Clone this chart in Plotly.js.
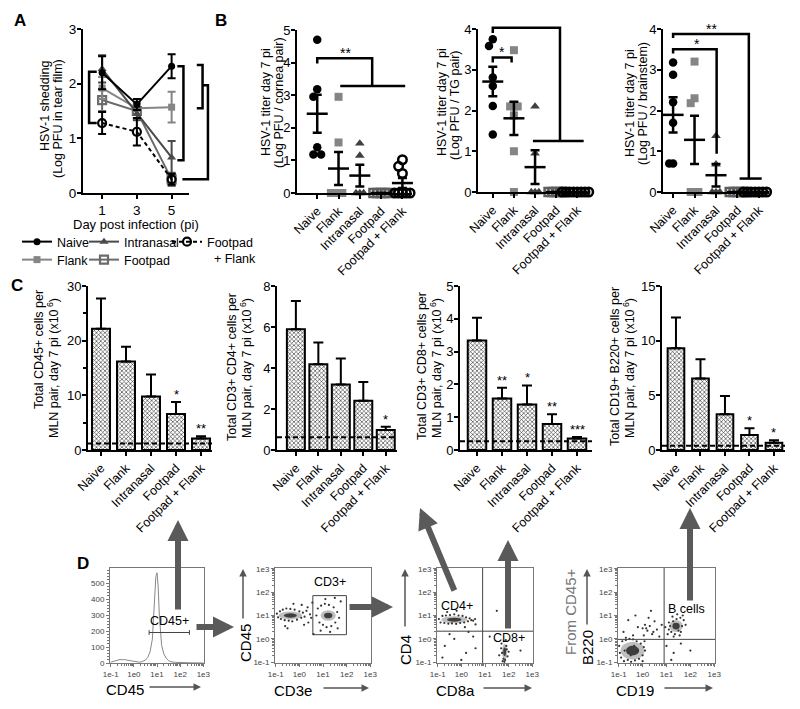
<!DOCTYPE html>
<html>
<head>
<meta charset="utf-8">
<script src="https://cdn.plot.ly/plotly-3.0.1.min.js"></script>
<style>html,body{margin:0;padding:0;background:#fff;}#fig{width:800px;height:709px;}</style>
</head>
<body>
<div id="fig"></div>
<script>
// ================= DATA =================
const groupNames = ['Naive', 'Flank', 'Intranasal', 'Footpad', 'Footpad + Flank'];

// Panel A: HSV-1 shedding (Log PFU in tear film), mean and SEM
const daysPostInfection = [1, 3, 5];
const sheddingNaive = [2.20, 1.62, 2.32];
const sheddingNaiveErr = [0.30, 0.10, 0.22];
const sheddingFlank = [1.92, 1.55, 1.57];
const sheddingFlankErr = [0.20, 0.12, 0.28];
const sheddingIntranasal = [2.27, 1.45, 0.65];
const sheddingIntranasalErr = [0.25, 0.12, 0.30];
const sheddingFootpad = [1.70, 1.50, 0.25];
const sheddingFootpadErr = [0.20, 0.14, 0.12];
const sheddingFootpadFlank = [1.28, 1.12, 0.25];
const sheddingFootpadFlankErr = [0.20, 0.25, 0.10];

// Panel B: HSV-1 titer day 7 pi, individual animals (Log PFU)
const corneaNaive = [4.70, 3.18, 2.95, 1.40, 1.18, 1.18];
const corneaFlank = [2.95, 1.55, 0, 0, 0, 0];
const corneaIntranasal = [1.52, 1.15, 0, 0, 0];
const corneaFootpad = [0, 0, 0, 0, 0];
const corneaFootpadFlank = [1.02, 0.82, 0.60, 0, 0, 0, 0, 0];

const tgNaive = [3.75, 3.58, 2.81, 2.60, 2.11, 1.41];
const tgFlank = [3.48, 2.10, 2.10, 2.10, 1.88, 1.00, 0];
const tgIntranasal = [2.10, 0.95, 0, 0, 0];
const tgFootpad = [0, 0, 0, 0, 0];
const tgFootpadFlank = [0, 0, 0, 0, 0, 0, 0, 0];

const brainstemNaive = [3.18, 2.88, 2.20, 1.70, 0.70, 0.70];
const brainstemFlank = [3.20, 2.30, 2.18, 0, 0, 0];
const brainstemIntranasal = [1.38, 0.68, 0, 0, 0];
const brainstemFootpad = [0, 0, 0, 0, 0];
const brainstemFootpadFlank = [0, 0, 0, 0, 0, 0, 0, 0];

// Panel C: total cells per MLN pair, day 7 pi (x10^6), mean and SEM
const cd45Mean = [22.2, 16.2, 9.8, 6.6, 2.1];
const cd45Err = [5.5, 2.7, 4.0, 2.2, 0.4];
const cd45Sig = ['', '', '', '*', '**'];
const cd4Mean = [5.89, 4.18, 3.20, 2.40, 0.98];
const cd4Err = [1.38, 1.06, 1.26, 0.92, 0.16];
const cd4Sig = ['', '', '', '', '*'];
const cd8Mean = [3.34, 1.57, 1.39, 0.79, 0.35];
const cd8Err = [0.69, 0.33, 0.58, 0.30, 0.05];
const cd8Sig = ['', '**', '*', '**', '***'];
const b220Mean = [9.30, 6.55, 3.26, 1.37, 0.67];
const b220Err = [2.83, 1.75, 1.68, 0.61, 0.23];
const b220Sig = ['', '', '', '*', '*'];
const detectionLimits = [1.2, 0.62, 0.27, 0.4];

// Panel D: flow cytometry (log10 units)
const cd45HistLog = [-1, -0.9, -0.8, -0.7, -0.6, -0.5, -0.4, -0.3, -0.2, -0.1, 0, 0.1, 0.2, 0.3, 0.4, 0.5, 0.6, 0.7, 0.8, 0.85, 0.9, 0.95, 1.0, 1.05, 1.1, 1.15, 1.2, 1.3, 1.4, 1.5, 1.6, 1.8, 2.0, 2.5, 3.0];
const cd45HistCount = [5, 10, 12, 18, 22, 20, 22, 18, 15, 15, 12, 8, 6, 6, 10, 18, 35, 70, 150, 260, 420, 540, 565, 480, 300, 180, 110, 55, 30, 15, 8, 4, 2, 1, 0];
const cd45GateLog = [0.66, 2.4];
const cd45GateCount = 191;

const cd3GateLogX = [0.57, 1.99];
const cd3GateLogY = [0.18, 1.85];
const cd3ClusterX = [-0.38, 1.22];
const cd3ClusterY = [1.0, 1.0];
const cd3ClusterSX = [0.5, 0.32];
const cd3ClusterSY = [0.17, 0.22];
const cd3DotsX = [-0.95,-0.9,-0.82,-0.78,-0.7,-0.62,-0.55,-0.45,-0.38,-0.3,-0.2,-0.1,0.0,0.08,0.15,0.22,0.3,0.38,0.45,0.5,-0.6,-0.25,0.1,0.35,-0.5,0.2,0.72,0.78,0.85,0.92,1.0,1.08,1.15,1.25,1.35,1.45,1.52,1.6,1.68,1.75,0.9,1.3,1.5,1.1,1.62,0.6,0.55];
const cd3DotsY = [1.08,0.92,1.18,0.85,1.25,0.8,1.3,0.78,1.28,0.75,1.25,0.82,1.18,0.9,1.12,0.95,1.2,0.7,1.05,0.9,0.55,1.5,1.45,1.35,0.45,0.6,1.0,1.3,0.7,1.42,0.6,1.5,0.5,1.45,0.55,1.35,0.7,1.15,0.9,1.6,0.35,0.3,1.75,1.7,0.45,0.2,1.55];

const cd8QuadLog = [0.9, 0.33];
const cd8ClusterX = [-0.3, 1.83];
const cd8ClusterY = [0.82, -0.55];
const cd8ClusterSX = [0.55, 0.11];
const cd8ClusterSY = [0.15, 0.33];
const cd8DotsX = [-0.95,-0.88,-0.8,-0.72,-0.65,-0.55,-0.48,-0.4,-0.3,-0.22,-0.12,-0.05,0.05,0.12,0.2,0.28,0.35,0.42,0.5,0.58,-0.6,-0.2,0.15,0.6,1.7,1.75,1.8,1.85,1.9,1.95,1.72,1.88,1.78,1.92,1.68,1.82,1.6,2.0,-0.7,-0.3,0.2,0.5,-0.8,0.0,0.6,-0.5,0.3,1.2,2.5,1.5];
const cd8DotsY = [0.85,0.7,0.98,0.68,1.0,0.65,1.02,0.66,1.05,0.64,1.0,0.68,0.98,0.7,0.92,0.75,0.88,0.8,0.78,0.85,1.15,1.2,0.5,0.62,-0.2,-0.95,-0.1,-0.9,-0.3,-0.75,-0.6,-0.05,-0.85,-0.45,-0.4,-0.98,-0.7,-0.55,-0.3,0.0,-0.6,0.1,-0.8,-0.9,-0.4,0.2,0.3,0.1,-0.5,1.2];

const cd19QuadLog = [0.9, -0.02];
const cd19ClusterX = [1.4, -0.42];
const cd19ClusterY = [0.55, -0.5];
const cd19ClusterSX = [0.28, 0.5];
const cd19ClusterSY = [0.26, 0.38];
const cd19DotsX = [1.05,1.1,1.15,1.2,1.28,1.35,1.42,1.5,1.58,1.65,1.72,1.1,1.3,1.55,1.68,0.95,1.8,1.25,1.45,1.6,-0.98,-0.9,-0.85,-0.78,-0.7,-0.62,-0.55,-0.48,-0.4,-0.32,-0.25,-0.15,-0.08,0.0,0.05,0.1,-0.95,-0.6,-0.2,0.08,-0.75,-0.35,0.0,-0.5,-0.8,-0.6,-0.4,-0.2,0.0,0.1,0.2,0.3,0.4,0.5,0.6,0.7,-0.3,0.05,0.25,0.45,0.8,-0.7,0.15,0.35,1.0,1.3,1.6,2.0,1.2];
const cd19DotsY = [0.2,0.4,0.55,0.3,0.75,0.2,0.85,0.35,0.9,0.55,0.8,0.7,0.1,0.15,1.0,0.5,0.6,0.95,1.05,0.3,-0.3,-0.8,-0.1,-0.95,-0.05,-0.9,0.0,-0.98,-0.02,-0.92,-0.1,-0.85,-0.2,-0.7,-0.35,-0.5,-0.6,-0.6,-0.5,-0.1,-0.5,-0.3,-0.95,-0.7,0.3,0.8,0.15,0.5,0.45,0.6,0.35,0.55,0.2,0.75,0.4,0.1,1.0,0.15,0.9,0.3,0.6,0.05,0.45,1.2,-0.3,-0.6,-0.2,-0.5,-0.9];

// ================= HELPERS =================
const W = 800, H = 709;
const FONT = 'Arial, "Liberation Sans", sans-serif';
function domX(l, r) { return [l / W, r / W]; }
function domY(t, b) { return [1 - b / H, 1 - t / H]; }
function f(size, color) { return {family: FONT, size: size, color: color || '#000'}; }

const mainAx = {showline: true, linecolor: '#000', linewidth: 2, ticks: 'outside', ticklen: 4, tickwidth: 2,
  tickcolor: '#000', showgrid: false, zeroline: false, tickfont: f(13)};
function catX(l, r, range, anchor) {
  return Object.assign({}, mainAx, {domain: domX(l, r), range: range, anchor: anchor, tickmode: 'array',
    tickvals: [0, 1, 2, 3, 4], ticktext: groupNames, tickangle: -45, tickfont: f(12.5)});
}
function valY(t, b, range, dtick, anchor, minor) {
  const o = Object.assign({}, mainAx, {domain: domY(t, b), range: range, tickmode: 'linear', tick0: 0, dtick: dtick,
    anchor: anchor, ticklabelstandoff: -2});
  if (minor) o.minor = {tickmode: 'linear', tick0: 0, dtick: minor, ticks: 'outside', ticklen: 3, tickwidth: 2, tickcolor: '#000'};
  return o;
}
const minorLog = [];
for (let d = -1; d < 3; d++) for (let k = 2; k < 10; k++) minorLog.push(d + Math.log10(k));
function flowAx(domain, anchor) {
  return {domain: domain, anchor: anchor, range: [-1.03, 3.03], showline: true, linecolor: '#777', linewidth: 1,
    mirror: true, ticks: 'outside', ticklen: 3, tickwidth: 1, tickcolor: '#777', showgrid: false, zeroline: false,
    tickmode: 'array', tickvals: [-1, 0, 1, 2, 3], ticktext: ['1e-1', '1e0', '1e1', '1e2', '1e3'], tickfont: f(8, '#444'),
    minor: {tickmode: 'array', tickvals: minorLog, ticks: 'outside', ticklen: 2, tickcolor: '#777', tickwidth: 1}};
}

function legendAt(xText, yTop) {
  return {orientation: 'v', xanchor: 'left', yanchor: 'top', x: (xText - 40) / W, y: 1 - yTop / H,
    itemwidth: 30, valign: 'top', font: f(12.5), bgcolor: 'rgba(0,0,0,0)', borderwidth: 0, tracegroupgap: 0};
}

const layout = {
  width: W, height: H, margin: {l: 0, r: 0, t: 0, b: 0},
  paper_bgcolor: '#fff', plot_bgcolor: 'rgba(0,0,0,0)', font: f(13), showlegend: true,
  legend: legendAt(57, 227), legend2: legendAt(124, 227), legend3: legendAt(207, 227),
  legend4: legendAt(57, 245), legend5: legendAt(124, 245),
  // A
  xaxis: Object.assign({}, mainAx, {domain: domX(83, 189), range: [-0.1, 6], anchor: 'y', tickmode: 'array', tickvals: daysPostInfection, tickfont: f(13.5, '#000')}),
  yaxis: Object.assign(valY(29, 193, [0, 3], 1, 'x'), {tickfont: f(13.5, '#000')}),
  // B
  xaxis2: catX(297, 412, [-0.95, 4.45], 'y2'), yaxis2: valY(30, 193, [0, 5], 1, 'x2'),
  xaxis3: catX(478, 590, [-0.7, 4.6], 'y3'), yaxis3: valY(29, 192, [0, 4], 1, 'x3'),
  xaxis4: catX(663, 769, [-0.47, 4.47], 'y4'), yaxis4: valY(29, 192, [0, 4], 1, 'x4'),
  // C
  xaxis5: catX(88, 212, [-0.52, 4.44], 'y5'), yaxis5: valY(286, 450, [0, 30], 10, 'x5', 5),
  xaxis6: catX(277, 397, [-0.84, 4.5], 'y6'), yaxis6: valY(286, 450, [0, 8], 2, 'x6'),
  xaxis7: catX(460, 592, [-0.68, 4.6], 'y7'), yaxis7: valY(286, 450, [0, 5], 1, 'x7'),
  xaxis8: catX(662, 785, [-0.57, 4.45], 'y8'), yaxis8: valY(286, 450, [0, 15], 5, 'x8'),
  // D
  xaxis9: flowAx(domX(110, 204), 'y9'),
  yaxis9: Object.assign(flowAx(domY(568, 663), 'x9'), {range: [0, 595], tickvals: [0, 100, 200, 300, 400, 500],
    ticktext: ['0', '100', '200', '300', '400', '500'], minor: {tickmode: 'linear', tick0: 0, dtick: 20, ticks: 'outside', ticklen: 2, tickcolor: '#777', tickwidth: 1}}),
  xaxis10: flowAx(domX(275, 371), 'y10'), yaxis10: flowAx(domY(568, 663), 'x10'),
  xaxis11: flowAx(domX(437, 533), 'y11'), yaxis11: flowAx(domY(568, 663), 'x11'),
  xaxis12: flowAx(domX(618, 715), 'y12'), yaxis12: flowAx(domY(568, 663), 'x12'),
  shapes: [], annotations: []
};

function axisToPaper(axName, v) {
  const a = layout[axName];
  return a.domain[0] + (v - a.range[0]) / (a.range[1] - a.range[0]) * (a.domain[1] - a.domain[0]);
}
function addBracket(xa, ya, pts) {
  const path = pts.map((p, i) => (i ? 'L' : 'M') + axisToPaper(xa, p[0]).toFixed(5) + ',' + axisToPaper(ya, p[1]).toFixed(5)).join(' ');
  layout.shapes.push({type: 'path', xref: 'paper', yref: 'paper', path: path, fillcolor: 'rgba(0,0,0,0)', line: {color: '#000', width: 2.5}, layer: 'above'});
}
function txt(text, x, y, size, extra) {
  layout.annotations.push(Object.assign({text: text, x: x / W, y: 1 - y / H, xref: 'paper', yref: 'paper', showarrow: false,
    xanchor: 'center', yanchor: 'middle', font: f(size)}, extra || {}));
}
function vtxt(text, x, y, size, extra) { txt(text, x, y, size, Object.assign({textangle: -90}, extra || {})); }
function dtxt(text, xref, yref, x, y, size, extra) {
  layout.annotations.push(Object.assign({text: text, x: x, y: y, xref: xref, yref: yref, showarrow: false,
    xanchor: 'center', yanchor: 'middle', font: f(size)}, extra || {}));
}
function arrow(tailX, tailY, tipX, tipY, width, size, color) {
  layout.annotations.push({text: '', x: tipX / W, y: 1 - tipY / H, xref: 'paper', yref: 'paper', axref: 'pixel', ayref: 'pixel',
    ax: tailX - tipX, ay: tailY - tipY, showarrow: true, arrowhead: 2, arrowwidth: width, arrowsize: size, arrowcolor: color, standoff: 0});
}
function mean(a) { return a.reduce((s, v) => s + v, 0) / a.length; }
function sem(a) { const m = mean(a); return Math.sqrt(a.reduce((s, v) => s + (v - m) * (v - m), 0) / (a.length - 1) / a.length); }
function swarm(values, threshold, step) {
  const placed = [], offs = new Array(values.length);
  const order = values.map((v, i) => i).sort((a, b) => values[b] - values[a]);
  const cand = [0]; for (let j = 1; j < 30; j++) cand.push(-j, j);
  order.forEach(i => {
    const v = values[i];
    const used = placed.filter(p => Math.abs(p.v - v) < threshold).map(p => p.k);
    const k = cand.find(c => !used.includes(c));
    placed.push({v: v, k: k}); offs[i] = k * step;
  });
  return offs;
}

const traces = [];

// ================= PANEL A =================
const aGroups = [
  {name: 'Footpad', y: sheddingFootpad, err: sheddingFootpadErr, color: '#6b6b6b', symbol: 'square-open', size: 8, dash: 'solid', legend: 'legend5', open: true},
  {name: 'Flank', y: sheddingFlank, err: sheddingFlankErr, color: '#858585', symbol: 'square', size: 7, dash: 'solid', legend: 'legend4'},
  {name: 'Intranasal', y: sheddingIntranasal, err: sheddingIntranasalErr, color: '#4a4a4a', symbol: 'triangle-up', size: 8, dash: 'solid', legend: 'legend2'},
  {name: 'Footpad<br>&nbsp;&nbsp;+ Flank', y: sheddingFootpadFlank, err: sheddingFootpadFlankErr, color: '#000', symbol: 'circle-open', size: 8, dash: '4px,3px', legend: 'legend3', open: true},
  {name: 'Naive', y: sheddingNaive, err: sheddingNaiveErr, color: '#000', symbol: 'circle', size: 7, dash: 'solid', legend: 'legend'}
];
aGroups.forEach(g => traces.push({
  type: 'scatter', mode: 'lines+markers', x: daysPostInfection, y: g.y, name: g.name, legend: g.legend,
  xaxis: 'x', yaxis: 'y', cliponaxis: false,
  line: {color: g.color, width: 2, dash: g.dash},
  marker: {symbol: g.symbol, size: g.size, color: g.color, line: {color: g.color, width: g.open ? 2.2 : 0}},
  error_y: {type: 'data', array: g.err, visible: true, color: g.color, thickness: 2, width: 4}
}));

addBracket('xaxis', 'yaxis', [[0.69, 2.22], [0.25, 2.22], [0.25, 1.28], [0.69, 1.28]]);
addBracket('xaxis', 'yaxis', [[5.33, 2.32], [5.68, 2.32], [5.68, 0.6], [5.33, 0.6]]);
addBracket('xaxis', 'yaxis', [[6.45, 2.34], [6.78, 2.34], [6.78, 1.55], [6.45, 1.55]]);
addBracket('xaxis', 'yaxis', [[6.78, 1.97], [7.09, 1.97], [7.09, 0.25], [5.62, 0.25]]);
dtxt('**', 'x', 'y', -0.30, 1.73, 14, {textangle: -90});
dtxt('***', 'x', 'y', 6.12, 1.39, 14, {textangle: -90});
dtxt('***', 'x', 'y', 7.62, 1.18, 14, {textangle: -90});
vtxt('HSV-1 shedding', 45, 106, 12.5);
vtxt('(Log PFU in tear film)', 58, 118, 12.5);
txt('Day post infection (pi)', 136, 225, 13);

// ================= PANEL B =================
const bStyles = [
  {symbol: 'circle', color: '#000', size: 8.5, lw: 0},
  {symbol: 'square', color: '#858585', size: 8, lw: 0},
  {symbol: 'triangle-up', color: '#404040', size: 8.5, lw: 0},
  {symbol: 'square-open', color: '#5e5e5e', size: 8, lw: 2.5},
  {symbol: 'circle-open', color: '#000', size: 8.5, lw: 2.5}
];
const bPanels = [
  {id: '2', sets: [corneaNaive, corneaFlank, corneaIntranasal, corneaFootpad, corneaFootpadFlank]},
  {id: '3', sets: [tgNaive, tgFlank, tgIntranasal, tgFootpad, tgFootpadFlank]},
  {id: '4', sets: [brainstemNaive, brainstemFlank, brainstemIntranasal, brainstemFootpad, brainstemFootpadFlank]}
];
bPanels.forEach(p => {
  const ya = layout['yaxis' + p.id];
  const valPerPx = (ya.range[1] - ya.range[0]) / ((ya.domain[1] - ya.domain[0]) * H);
  p.sets.forEach((vals, g) => {
    const offs = swarm(vals, valPerPx * 7.5, 0.18);
    const s = bStyles[g];
    traces.push({type: 'scatter', mode: 'markers', x: offs.map(o => g + o), y: vals, xaxis: 'x' + p.id, yaxis: 'y' + p.id,
      showlegend: false, cliponaxis: false,
      marker: {symbol: s.symbol, size: s.size, color: s.color, line: {color: s.color, width: s.lw}}});
  });
  traces.push({type: 'scatter', mode: 'markers', x: [0, 1, 2, 3, 4], y: p.sets.map(mean), xaxis: 'x' + p.id, yaxis: 'y' + p.id,
    showlegend: false, cliponaxis: false,
    marker: {symbol: 'line-ew', size: 15, color: '#000', line: {color: '#000', width: 2.5}},
    error_y: {type: 'data', array: p.sets.map(sem), visible: true, color: '#000', thickness: 2.5, width: 4.5}});
});
// B significance brackets
addBracket('xaxis2', 'yaxis2', [[0, 3.97], [0, 4.13], [2.58, 4.13], [2.58, 3.28]]);
addBracket('xaxis2', 'yaxis2', [[1.08, 3.28], [4.13, 3.28]]);
dtxt('**', 'x2', 'y2', 1.31, 4.30, 14);
addBracket('xaxis3', 'yaxis3', [[0, 3.18], [0, 3.3], [0.89, 3.3], [0.89, 3.18]]);
dtxt('*', 'x3', 'y3', 0.43, 3.43, 14);
addBracket('xaxis3', 'yaxis3', [[0, 3.9], [0, 4.03], [3.18, 4.03], [3.18, 1.25]]);
addBracket('xaxis3', 'yaxis3', [[1.9, 1.25], [4.3, 1.25]]);
dtxt('***', 'x3', 'y3', 1.74, 4.16, 14);
addBracket('xaxis4', 'yaxis4', [[0, 3.4], [0, 3.5], [2.03, 3.5], [2.03, 0.94]]);
dtxt('*', 'x4', 'y4', 1.1, 3.62, 14);
addBracket('xaxis4', 'yaxis4', [[0, 3.78], [0, 3.88], [3.53, 3.88], [3.53, 0.33]]);
addBracket('xaxis4', 'yaxis4', [[3.1, 0.33], [4.13, 0.33]]);
dtxt('**', 'x4', 'y4', 1.8, 4.0, 14);
vtxt('HSV-1 titer day 7 pi', 266, 102, 12.5);
vtxt('(Log PFU / cornea pair)', 279, 103, 12.5);
vtxt('HSV-1 titer day 7 pi', 442, 102, 12.5);
vtxt('(Log PFU / TG pair)', 455, 105, 12.5);
vtxt('HSV-1 titer day 7 pi', 630, 103, 12.5);
vtxt('(Log PFU / brainstem)', 643, 104, 12.5);

// ================= PANEL C =================
const cPanels = [
  {id: '5', m: cd45Mean, e: cd45Err, s: cd45Sig, w: 0.72, t1: 'Total CD45+ cells per', x1: 39, y1: 350, x2: 53},
  {id: '6', m: cd4Mean, e: cd4Err, s: cd4Sig, w: 0.8, t1: 'Total CD3+ CD4+ cells per', x1: 232, y1: 367, x2: 246},
  {id: '7', m: cd8Mean, e: cd8Err, s: cd8Sig, w: 0.74, t1: 'Total CD3+ CD8+ cells per', x1: 422, y1: 366, x2: 436},
  {id: '8', m: b220Mean, e: b220Err, s: b220Sig, w: 0.68, t1: 'Total CD19+ B220+ cells per', x1: 615, y1: 367, x2: 629}
];
cPanels.forEach((p, k) => {
  traces.push({type: 'bar', x: [0, 1, 2, 3, 4], y: p.m, width: p.w, xaxis: 'x' + p.id, yaxis: 'y' + p.id, showlegend: false,
    marker: {color: '#a9a9a9', line: {color: '#000', width: 2}, pattern: {shape: 'x', size: 3, solidity: 0.35, fgcolor: '#262626'}},
    error_y: {type: 'data', symmetric: false, array: p.e, arrayminus: p.e.map(() => 0), visible: true, color: '#000', thickness: 2, width: 5}});
  layout.shapes.push({type: 'line', xref: 'x' + p.id + ' domain', x0: 0, x1: 1, yref: 'y' + p.id, y0: detectionLimits[k], y1: detectionLimits[k],
    line: {color: '#000', width: 2, dash: '5px,3px'}, layer: 'above'});
  p.s.forEach((s, i) => { if (s) dtxt(s, 'x' + p.id, 'y' + p.id, i, p.m[i] + p.e[i], 13, {yanchor: 'bottom', yshift: -2}); });
  vtxt(p.t1, p.x1, p.y1, 12.5);
  vtxt('MLN pair, day 7 pi (x10<sup> 6</sup>)', p.x2, 368, 12.5);
});

// ================= PANEL D =================
traces.push({type: 'scatter', mode: 'lines', x: cd45HistLog, y: cd45HistCount, xaxis: 'x9', yaxis: 'y9', showlegend: false,
  line: {color: '#888', width: 1}});
layout.shapes.push({type: 'line', xref: 'x9', yref: 'y9', x0: cd45GateLog[0], x1: cd45GateLog[1], y0: cd45GateCount, y1: cd45GateCount, line: {color: '#444', width: 1}});
cd45GateLog.forEach(g => layout.shapes.push({type: 'line', xref: 'x9', yref: 'y9', x0: g, x1: g, y0: cd45GateCount - 15, y1: cd45GateCount + 15, line: {color: '#444', width: 1}}));
dtxt('CD45+', 'x9', 'y9', 1.55, 265, 12.5);

function clusters(id, cx, cy, sx, sy) {
  cx.forEach((x, i) => {
    layout.shapes.push({type: 'circle', xref: 'x' + id, yref: 'y' + id, x0: x - sx[i], x1: x + sx[i], y0: cy[i] - sy[i], y1: cy[i] + sy[i],
      fillcolor: 'rgba(110,110,110,0.45)', line: {width: 0}, layer: 'below'});
    layout.shapes.push({type: 'circle', xref: 'x' + id, yref: 'y' + id, x0: x - sx[i] * 0.55, x1: x + sx[i] * 0.55, y0: cy[i] - sy[i] * 0.55, y1: cy[i] + sy[i] * 0.55,
      fillcolor: 'rgba(40,40,40,0.85)', line: {width: 0}, layer: 'below'});
  });
}
function dots(id, xs, ys) {
  traces.push({type: 'scatter', mode: 'markers', x: xs, y: ys, xaxis: 'x' + id, yaxis: 'y' + id, showlegend: false,
    marker: {size: 2.2, color: '#333'}});
}
clusters('10', cd3ClusterX, cd3ClusterY, cd3ClusterSX, cd3ClusterSY);
dots('10', cd3DotsX, cd3DotsY);
layout.shapes.push({type: 'rect', xref: 'x10', yref: 'y10', x0: cd3GateLogX[0], x1: cd3GateLogX[1], y0: cd3GateLogY[0], y1: cd3GateLogY[1], line: {color: '#444', width: 1}});
dtxt('CD3+', 'x10', 'y10', 1.29, 2.42, 12.5);

clusters('11', cd8ClusterX, cd8ClusterY, cd8ClusterSX, cd8ClusterSY);
dots('11', cd8DotsX, cd8DotsY);
layout.shapes.push({type: 'line', xref: 'x11', yref: 'y11 domain', x0: cd8QuadLog[0], x1: cd8QuadLog[0], y0: 0, y1: 1, line: {color: '#444', width: 1}});
layout.shapes.push({type: 'line', xref: 'x11 domain', yref: 'y11', x0: 0, x1: 1, y0: cd8QuadLog[1], y1: cd8QuadLog[1], line: {color: '#444', width: 1}});
dtxt('CD4+', 'x11', 'y11', -0.17, 1.41, 12.5);
dtxt('CD8+', 'x11', 'y11', 2.03, 0.02, 12.5);

clusters('12', cd19ClusterX, cd19ClusterY, cd19ClusterSX, cd19ClusterSY);
dots('12', cd19DotsX, cd19DotsY);
layout.shapes.push({type: 'line', xref: 'x12', yref: 'y12 domain', x0: cd19QuadLog[0], x1: cd19QuadLog[0], y0: 0, y1: 1, line: {color: '#444', width: 1}});
layout.shapes.push({type: 'line', xref: 'x12 domain', yref: 'y12', x0: 0, x1: 1, y0: cd19QuadLog[1], y1: cd19QuadLog[1], line: {color: '#444', width: 1}});
dtxt('B cells', 'x12', 'y12', 1.83, 1.27, 12.5);

// D axis titles and thin arrows
txt('CD45', 125, 689, 15);
arrow(148, 687, 201, 687, 1.5, 1, '#555');
txt('CD3e', 293, 690, 15);
arrow(322, 688, 369, 688, 1.5, 1, '#555');
vtxt('CD45', 245, 643, 15);
arrow(243, 620, 243, 569, 1.5, 1, '#555');
txt('CD8a', 455, 690, 15);
arrow(482, 688, 532, 688, 1.5, 1, '#555');
vtxt('CD4', 405, 650, 15);
arrow(405, 628, 405, 569, 1.5, 1, '#555');
txt('CD19', 635, 690, 15);
arrow(663, 688, 713, 688, 1.5, 1, '#555');
vtxt('B220', 587, 648, 15);
vtxt('From CD45+', 570, 612, 15, {font: f(15, '#777')});
arrow(587, 626, 587, 569, 1.5, 1, '#555');

// big grey connector arrows
arrow(178, 611, 178, 520, 6, 0.7, '#5a5a5a');
arrow(195, 627, 234, 627, 6, 0.7, '#5a5a5a');
arrow(348, 607, 393, 607, 6, 0.7, '#5a5a5a');
arrow(455, 592, 420, 508, 6, 0.7, '#5a5a5a');
arrow(508, 630, 508, 540, 6, 0.7, '#5a5a5a');
arrow(690, 602, 690, 508, 6, 0.7, '#5a5a5a');

// panel letters
txt('<b>A</b>', 20, 21, 17);
txt('<b>B</b>', 221, 21, 17);
txt('<b>C</b>', 17, 285, 17);
txt('<b>D</b>', 83, 563, 17);

Plotly.newPlot('fig', traces, layout, {staticPlot: true, displayModeBar: false});
</script>
</body>
</html>
